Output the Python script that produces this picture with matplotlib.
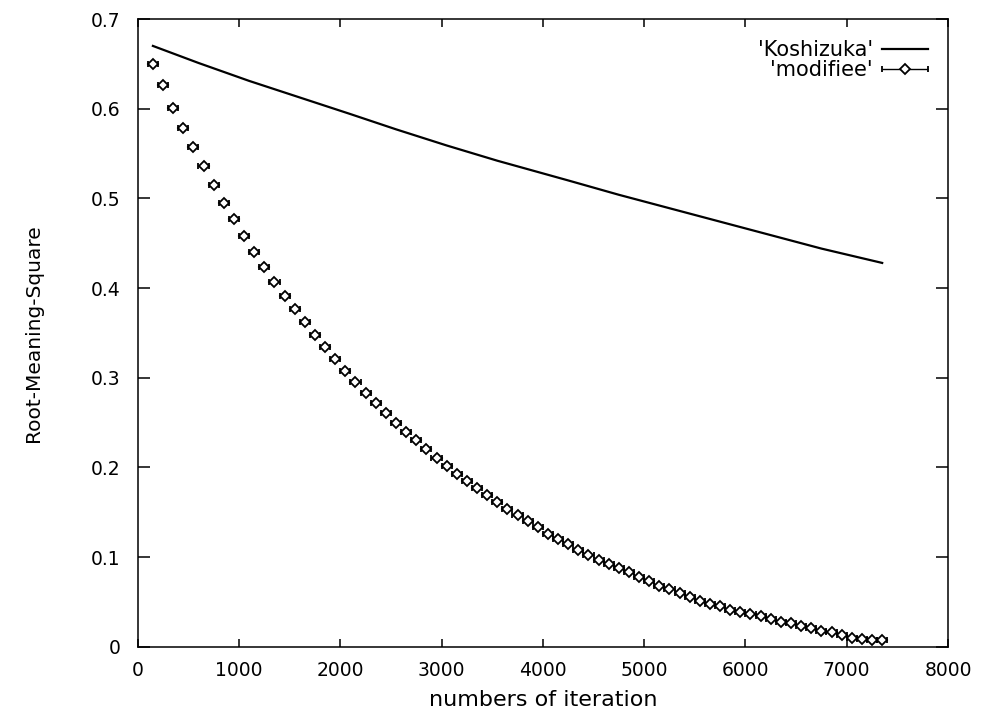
import matplotlib
matplotlib.use("Agg")
import matplotlib.pyplot as plt
from matplotlib.container import ErrorbarContainer
from matplotlib.legend_handler import HandlerErrorbar

# iteration counts where the RMS error was sampled
iterations = [150, 250, 350, 450, 550, 650, 750, 850, 950, 1050,
              1150, 1250, 1350, 1450, 1550, 1650, 1750, 1850, 1950, 2050,
              2150, 2250, 2350, 2450, 2550, 2650, 2750, 2850, 2950, 3050,
              3150, 3250, 3350, 3450, 3550, 3650, 3750, 3850, 3950, 4050,
              4150, 4250, 4350, 4450, 4550, 4650, 4750, 4850, 4950, 5050,
              5150, 5250, 5350, 5450, 5550, 5650, 5750, 5850, 5950, 6050,
              6150, 6250, 6350, 6450, 6550, 6650, 6750, 6850, 6950, 7050,
              7150, 7250, 7350]

# modified scheme
rms_modifiee = [0.650, 0.626, 0.601, 0.579, 0.557, 0.536, 0.515, 0.495, 0.477, 0.458,
                0.440, 0.424, 0.407, 0.391, 0.377, 0.362, 0.348, 0.334, 0.321, 0.308,
                0.295, 0.283, 0.272, 0.261, 0.250, 0.240, 0.230, 0.220, 0.211, 0.201,
                0.193, 0.185, 0.177, 0.169, 0.161, 0.154, 0.147, 0.140, 0.133, 0.126,
                0.120, 0.114, 0.108, 0.102, 0.097, 0.092, 0.088, 0.083, 0.078, 0.073,
                0.068, 0.064, 0.060, 0.056, 0.051, 0.048, 0.045, 0.041, 0.0385, 0.036,
                0.034, 0.031, 0.028, 0.026, 0.023, 0.021, 0.018, 0.016, 0.013, 0.0095,
                0.0085, 0.0075, 0.007]
x_halfwidth = 50

# original Koshizuka scheme
kosh_iter = [150, 600, 1100, 1600, 2100, 2550, 3050, 3550, 4250, 4750,
             5250, 5750, 6250, 6750, 7350]
rms_koshizuka = [0.670, 0.651, 0.631, 0.6125, 0.594, 0.577, 0.559, 0.542, 0.520, 0.504,
                 0.489, 0.474, 0.459, 0.444, 0.428]

x_ticks = [0, 1000, 2000, 3000, 4000, 5000, 6000, 7000, 8000]
x_ticklabels = ["0", "1000", "2000", "3000", "4000", "5000", "6000", "7000", "8000"]
y_ticks = [0, 0.1, 0.2, 0.3, 0.4, 0.5, 0.6, 0.7]
y_ticklabels = ["0", "0.1", "0.2", "0.3", "0.4", "0.5", "0.6", "0.7"]

plt.rcParams["font.family"] = ["DejaVu Sans"]

fig = plt.figure(figsize=(9.83, 7.15), dpi=100)
ax = fig.add_axes([0.1401, 0.0955, 0.8243, 0.8779])

line_k, = ax.plot(kosh_iter, rms_koshizuka, color="black", lw=1.6,
                  label="'Koshizuka'")
eb = ax.errorbar(iterations, rms_modifiee, xerr=x_halfwidth, fmt="D",
                 color="black", markerfacecolor="white", markeredgecolor="black",
                 markersize=5.4, markeredgewidth=1.3, elinewidth=1.0,
                 capsize=2, capthick=1.0, label="'modifiee'")

ax.set_xlim(0, 8000)
ax.set_ylim(0, 0.7)
ax.set_xticks(x_ticks)
ax.set_xticklabels(x_ticklabels)
ax.set_yticks(y_ticks)
ax.set_yticklabels(y_ticklabels)

ax.tick_params(axis="both", direction="in", top=True, right=True,
               width=1.1, labelsize=13.5, colors="black")
ax.tick_params(axis="x", length=6, pad=10)
ax.tick_params(axis="y", length=8.5, pad=12.5)
for sp in ax.spines.values():
    sp.set_linewidth(1.1)

ax.set_xlabel("numbers of iteration", fontsize=16)
ax.xaxis.set_label_coords(0.5, -0.085)
ax.xaxis.label.set_va("center")
ax.set_ylabel("Root-Meaning-Square", fontsize=14.5)
ax.yaxis.set_label_coords(-0.129, 0.5)
ax.yaxis.label.set_va("center")

ax.legend(handles=[line_k, eb], loc="upper right",
          bbox_to_anchor=(0.980, 0.9735), frameon=False, markerfirst=False,
          fontsize=15, handlelength=2.2, handletextpad=0.43,
          labelspacing=0.0, borderpad=0.2, borderaxespad=0.0,
          handler_map={ErrorbarContainer: HandlerErrorbar(xerr_size=1.1)})

fig.savefig("out.png", dpi=100)
